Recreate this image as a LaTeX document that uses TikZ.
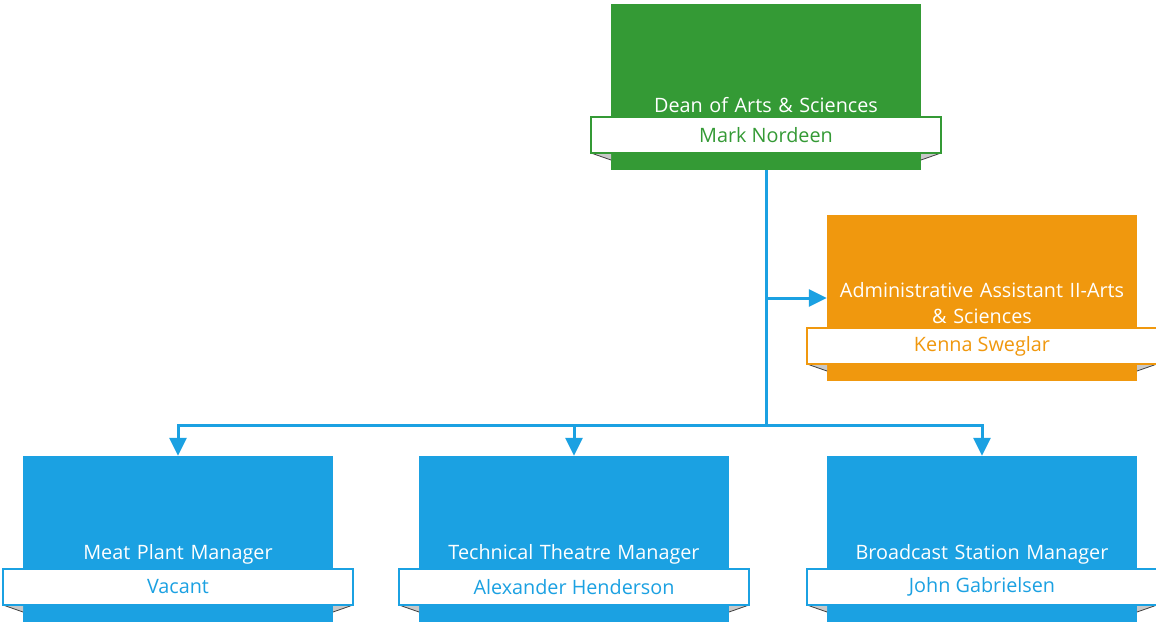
\documentclass[tikz,border=0pt]{standalone}
\usepackage{fontspec}
\setmainfont{Open Sans}
\usetikzlibrary{arrows.meta,calc}
\definecolor{cgreen}{HTML}{349A35}
\definecolor{corange}{HTML}{F0980E}
\definecolor{cblue}{HTML}{1BA1E2}
\definecolor{foldgray}{HTML}{C8C8C8}
\definecolor{folddark}{HTML}{404040}
\tikzset{
  box/.style={rectangle, minimum width=310pt, minimum height=166pt, inner sep=0pt, draw=none},
  ribbon/.style={rectangle, fill=white, minimum width=350pt, minimum height=36pt, inner sep=0pt, line width=1.2pt, font=\fontsize{19.8}{24}\selectfont},
  titletext/.style={text=white, anchor=south, inner sep=4pt, text width=306pt, align=center, font=\fontsize{19.8}{26}\selectfont},
  conn/.style={draw=cblue, line width=3pt},
  arr/.style={-{Triangle[width=17pt,length=18pt]}}
}
\newcommand\orgunit[6]{%
  \node[box, fill=#4] (#1) at (#2,#3+83) {};
  \fill[foldgray] (#2-175,#3+149) -- (#2-155,#3+149) -- (#2-155,#3+156) -- cycle;
  \draw[folddark, line width=0.8pt] (#2-175,#3+149) -- (#2-155,#3+156);
  \fill[foldgray] (#2+175,#3+149) -- (#2+155,#3+149) -- (#2+155,#3+156) -- cycle;
  \draw[folddark, line width=0.8pt] (#2+175,#3+149) -- (#2+155,#3+156);
  \node[ribbon, draw=#4, text=#4] (#1r) at (#2,#3+131) {#6};
  \node[titletext] (#1t) at (#1r.north) {#5};
}
\begin{document}
\begin{tikzpicture}[x=1pt,y=-1pt]
\useasboundingbox (0,0) rectangle (1156,622);
\orgunit{dean}{766}{4}{cgreen}{Dean of Arts \& Sciences}{Mark Nordeen}
\orgunit{asst}{982}{215}{corange}{Administrative Assistant II-Arts\\ \& Sciences}{Kenna Sweglar}
\orgunit{meat}{178}{456}{cblue}{Meat Plant Manager}{Vacant}
\orgunit{theatre}{574}{456}{cblue}{Technical Theatre Manager}{Alexander Henderson}
\orgunit{bcast}{982}{456}{cblue}{Broadcast Station Manager}{John Gabrielsen}
\coordinate (j) at (766,425);
\coordinate (ja) at (766,298);
\draw[conn] (dean.south) -- (j);
\draw[conn, arr] (ja) -- (asst.west);
\draw[conn, arr] (j) -| (meat.north);
\draw[conn, arr] (j) -| (theatre.north);
\draw[conn, arr] (j) -| (bcast.north);
\end{tikzpicture}
\end{document}
